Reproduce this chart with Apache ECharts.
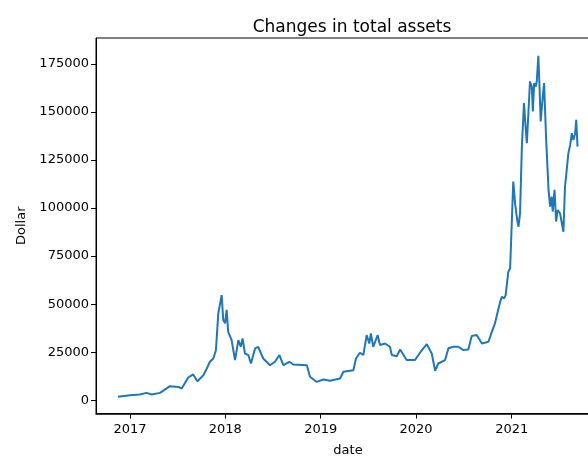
<!DOCTYPE html>
<html>
<head>
<meta charset="utf-8">
<script src="https://cdn.jsdelivr.net/npm/echarts@6/dist/echarts.min.js"></script>
<style>html,body{margin:0;padding:0;background:#fff}#c{width:588px;height:458px}</style>
</head>
<body>
<div id="c"></div>
<script>
const dates = [
'2016-11-16','2017-01-01','2017-02-08','2017-03-06','2017-03-25','2017-04-26','2017-06-03','2017-07-05','2017-07-18','2017-08-12',
'2017-08-31','2017-09-16','2017-10-09','2017-10-22','2017-11-03','2017-11-16','2017-11-26','2017-12-05','2017-12-12','2017-12-18',
'2017-12-24','2017-12-31','2018-01-06','2018-01-12','2018-01-25','2018-02-07','2018-02-20','2018-03-01','2018-03-08','2018-03-17',
'2018-03-30','2018-04-09','2018-04-25','2018-05-07','2018-05-26','2018-06-21','2018-07-10','2018-07-27','2018-08-11','2018-09-03',
'2018-09-18','2018-11-09','2018-11-21','2018-12-17','2019-01-11','2019-02-06','2019-03-16','2019-03-29','2019-05-06','2019-05-16',
'2019-05-31','2019-06-13','2019-06-26','2019-07-06','2019-07-12','2019-07-21','2019-08-07','2019-08-16','2019-09-04','2019-09-23',
'2019-09-30','2019-10-19','2019-11-01','2019-11-26','2019-12-28','2020-01-16','2020-02-11','2020-03-01','2020-03-14','2020-03-26',
'2020-04-21','2020-05-04','2020-05-23','2020-06-11','2020-06-30','2020-07-19','2020-08-01','2020-08-20','2020-09-09','2020-10-04',
'2020-10-17','2020-10-29','2020-11-18','2020-11-24','2020-12-03','2020-12-09','2020-12-19','2020-12-26','2021-01-07','2021-01-14',
'2021-01-23','2021-01-27','2021-02-02','2021-02-09','2021-02-17','2021-02-24','2021-02-28','2021-03-06','2021-03-12','2021-03-19',
'2021-03-23','2021-03-28','2021-04-03','2021-04-07','2021-04-13','2021-04-17','2021-04-22','2021-04-30','2021-05-05','2021-05-13',
'2021-05-22','2021-05-28','2021-06-03','2021-06-07','2021-06-14','2021-06-20','2021-06-26','2021-07-05','2021-07-18','2021-07-24',
'2021-07-28','2021-08-06','2021-08-13','2021-08-19','2021-08-25','2021-09-01','2021-09-05','2021-09-10'
];
const assets = [
1800,2600,3000,3800,3000,3800,7300,6900,6100,11800,
13400,9900,13000,16500,20000,21700,26000,45200,46000,54700,
41700,40000,47000,35600,31300,20900,31300,27800,32100,24300,
23500,19100,27000,27800,21700,18200,20000,23500,18200,20000,
18600,18200,12200,9500,10800,10100,11300,14800,15600,21700,
24700,23500,33900,29500,34800,27800,33900,28700,29500,27800,
23500,22900,26400,20900,20900,24700,29200,24300,15300,19100,
20900,27000,27800,27800,26100,26400,33400,33900,29500,30400,
35600,40000,51200,53800,53000,54700,66900,68600,113800,102500,
93000,90300,97300,132000,154700,140700,133800,149500,165900,163300,
150300,165100,163300,165900,179300,165100,145100,158100,165100,135500,
109500,100800,106000,98200,109500,93000,99000,97300,87700,111200,
116400,128600,132900,139000,135500,139000,146000,132000
];
const yTicks = [0,25000,50000,75000,100000,125000,150000,175000];
const xTickDates = ['2017-01-01','2018-01-01','2019-01-01','2020-01-01','2021-01-01'];

const ts = d => Date.parse(d + 'T00:00:00Z');
const xTicks = xTickDates.map(ts);
const yMin = -6930, yMax = 188550;

const chart = echarts.init(document.getElementById('c'), null, {renderer:'canvas'});
const font = 'DejaVu Sans';
chart.setOption({
  backgroundColor:'#ffffff',
  animation:false,
  title:{text:'Changes in total assets', left:347, top:14, textAlign:'center',
    textStyle:{fontFamily:font, fontSize:17, fontWeight:'normal', color:'#000'}},
  grid:{left:96, top:38, width:504, height:375.5, containLabel:false, outerBoundsMode:'none',
    show:true, borderColor:'#000', borderWidth:1, backgroundColor:'transparent'},
  xAxis:{type:'value', position:'bottom', min:ts('2016-08-24'), max:ts('2021-12-05'),
    name:'date', nameLocation:'middle', nameGap:31,
    nameTextStyle:{fontFamily:font, fontSize:13, color:'#000'},
    axisLine:{show:true, onZero:false, lineStyle:{color:'#000', width:1.5}},
    axisTick:{show:true, length:5, inside:false, customValues:xTicks, lineStyle:{color:'#000'}},
    axisLabel:{customValues:xTicks, formatter:v=>String(new Date(v).getUTCFullYear()),
      fontFamily:font, fontSize:13, color:'#000', margin:10},
    splitLine:{show:false}},
  yAxis:{type:'value', min:yMin, max:yMax,
    name:'Dollar', nameLocation:'middle', nameGap:65, nameRotate:90,
    nameTextStyle:{fontFamily:font, fontSize:13, color:'#000'},
    axisLine:{show:true, onZero:false, lineStyle:{color:'#000', width:1}},
    axisTick:{show:true, length:5, customValues:yTicks, lineStyle:{color:'#000'}},
    axisLabel:{customValues:yTicks, formatter:v=>String(v), fontFamily:font, fontSize:13, color:'#000', margin:7},
    splitLine:{show:false}},
  series:[{type:'line', data:dates.map((d,i)=>[ts(d), assets[i]]), showSymbol:false,
    lineStyle:{color:'#1f77b4', width:2}, itemStyle:{color:'#1f77b4'}, clip:false,
    markLine:{silent:true, symbol:['none','none'], animation:false, z:10,
      label:{show:false}, lineStyle:{color:'#000', width:1, type:'solid'},
      data:[{yAxis:yMin}]}}]
});
</script>
</body>
</html>
